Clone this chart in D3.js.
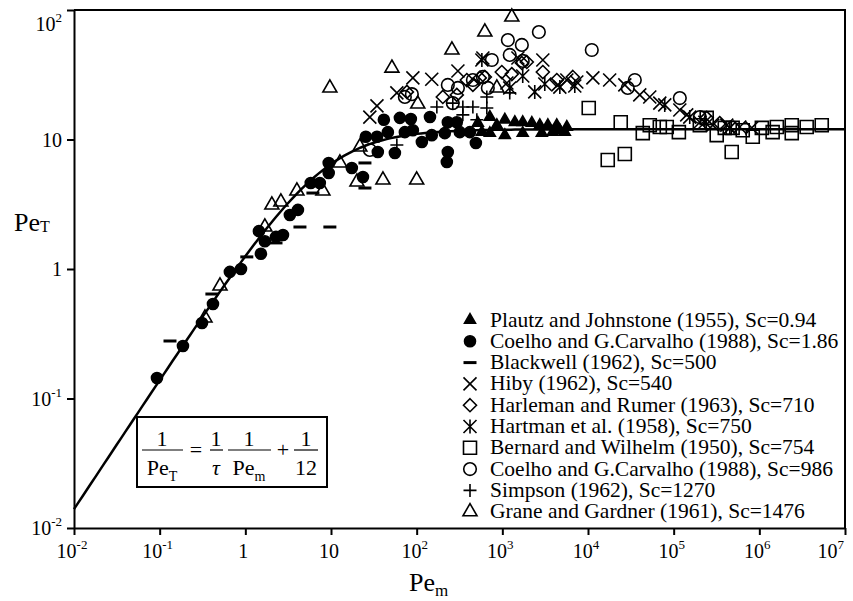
<!DOCTYPE html>
<html>
<head>
<meta charset="utf-8">
<script src="https://cdn.jsdelivr.net/npm/d3@7/dist/d3.min.js"></script>
<style>
  body { margin: 0; background: #fff; }
</style>
</head>
<body>
<svg id="chart" width="853" height="601" font-family="'Liberation Serif', 'Times New Roman', Tinos, 'DejaVu Serif', serif"></svg>
<script>
// DATA: [Pe_m, Pe_T]
const plautz = [[518,13.4],[577,11.4],[715,14.9],[715,11.2],[863,12.9],[1070,14.2],[1070,10.8],[1400,13.6],[1730,13.6],[1730,11.2],[2210,13.4],[2740,12.9],[2890,11.2],[3400,12.9],[3880,11.4],[4320,12.9],[4690,11.8],[5360,11.4],[5660,12.5]];
const coelho186 = [[0.093,0.144],[0.187,0.254],[0.312,0.383],[0.419,0.537],[0.66,0.95],[0.89,1.0],[1.44,1.96],[1.52,1.31],[1.69,1.64],[2.28,1.77],[2.75,1.83],[3.31,2.61],[4.11,2.86],[5.8,4.61],[7.4,4.61],[9.4,6.59],[9.4,5.51],[17.5,6.03],[23.6,5.13],[25.5,10.5],[34.4,10.5],[35.2,8.0],[41.4,14.2],[46.1,11.4],[55.7,7.87],[63.7,14.7],[72.8,11.4],[85.5,14.4],[90.3,11.8],[115,9.57],[143,14.9],[150,10.8],[213,11.2],[231,13.6],[231,8.0],[225,6.7],[294,13.6],[319,11.4],[418,11.4],[491,9.4]];
const blackwell = [[0.132,0.278],[0.407,0.641],[1.04,1.24],[2.28,1.59],[4.34,2.11],[9.7,2.11],[6.15,3.86],[24.9,6.59],[24.9,4.22]];
const hiby = [[28.4,14.9],[34.4,18.2],[58.7,22.9],[90.3,29.9],[150,29.2],[303,33.8],[593,42.6],[1130,27.3],[1520,42.6],[2970,41.1],[4440,26.4],[5660,28.8],[7400,27.8],[11400,29.9],[17900,28.8],[26900,26.4],[40200,22.1],[52600,21.3],[68900,19.1],[118000,16.9],[142000,15.5],[202000,13.6],[286000,12.9],[417000,12.9],[590000,12.5],[815000,12.3]];
const harleman = [[76.9,23.3],[202,21.3],[294,22.1],[385,28.8],[453,26.4],[546,29.9],[625,30.4],[986,33.2],[1290,32.0],[1690,39.0],[1930,39.7],[2970,33.2],[4320,28.8],[6650,30.4],[243000,14.7],[345000,13.4]];
const hartman = [[577,41.1],[1220,25.0],[1730,30.9],[2390,23.3],[3130,26.8],[4690,25.4],[7010,25.9],[78700,18.5],[154000,14.9],[231000,13.6],[452000,12.3]];
const bernard = [[10200,17.5],[17000,6.95],[24100,13.6],[26900,7.73],[43600,11.2],[52600,12.9],[68900,12.5],[83000,12.5],[115000,11.4],[202000,12.9],[243000,14.7],[318000,10.8],[395000,12.3],[476000,8.0],[488000,12.3],[640000,11.8],[838000,10.5],[1070000,12.3],[1430000,11.4],[1600000,12.5],[2390000,12.9],[2390000,11.2],[3570000,12.5],[5350000,12.9]];
const coelho986 = [[28.4,8.3],[72.8,21.3],[87.9,22.4],[231,26.4],[264,19.1],[303,25.0],[453,28.8],[593,30.4],[677,25.0],[754,41.1],[1160,58.6],[1220,45.0],[1690,53.7],[1730,40.4],[2670,67.6],[11070,49.1],[29100,25.0],[35200,28.8],[118000,20.9],[202000,14.9]];
const simpson = [[58.7,9.07],[172,17.8],[264,19.1],[346,17.8],[346,15.5],[453,17.8],[504,14.2],[659,21.3],[659,17.5],[1220,22.9]];
const grane = [[0.338,0.419],[0.506,0.74],[1.69,2.11],[2.04,3.12],[2.60,3.29],[4.0,4.0],[8.04,4.0],[9.7,25.0],[12.7,6.59],[20.1,4.70],[21.7,8.75],[40.4,4.87],[51.4,35.6],[100,4.87],[103,18.8],[258,49.1],[625,67.6],[863,25.0],[1290,88.3]];

const legendNames = [
  'Plautz and Johnstone (1955), Sc=0.94',
  'Coelho and G.Carvalho (1988), Sc=1.86',
  'Blackwell (1962), Sc=500',
  'Hiby (1962), Sc=540',
  'Harleman and Rumer (1963), Sc=710',
  'Hartman et al. (1958), Sc=750',
  'Bernard and Wilhelm (1950), Sc=754',
  'Coelho and G.Carvalho (1988), Sc=986',
  'Simpson (1962), Sc=1270',
  'Grane and Gardner (1961), Sc=1476',
];
const markerTypes = ['triFill', 'dot', 'dash', 'x', 'diamond', 'aster', 'square', 'ring', 'plus', 'tri'];
const seriesData = [plautz, coelho186, blackwell, hiby, harleman, hartman, bernard, coelho986, simpson, grane];

const xTicks = [1e-2, 1e-1, 1, 10, 1e2, 1e3, 1e4, 1e5, 1e6, 1e7];
const yTicks = [1e-2, 1e-1, 1, 10, 1e2];

// MODEL: 1/PeT = 1/tau * 1/Pem + 1/12
const TAU = 1.4;
const PE_LIM = 12;
const curvePem = d3.range(-2, 7.01, 0.05).map((e) => Math.pow(10, e));

// LAYOUT
const m = { top: 10, right: 8, bottom: 73, left: 74 };
const W = 853, H = 601;
const w = W - m.left - m.right;
const h = H - m.top - m.bottom;

const svg = d3.select('#chart');
const g = svg.append('g').attr('transform', `translate(${m.left},${m.top})`);

// SCALES
const xScale = d3.scaleLog().domain([1e-2, 1e7]).range([0, w]);
const yScale = d3.scaleLog().domain([1e-2, 1e2]).range([h, 0]);

// MARKER SHAPES
function markerPath(type) {
  const r = 6.5;
  switch (type) {
    case 'triFill': { const s = 11, t = s * 0.866; return `M0,${-t * 2 / 3}L${s / 2},${t / 3}L${-s / 2},${t / 3}Z`; }
    case 'tri': { const s = 14, t = s * 0.866; return `M0,${-t * 2 / 3}L${s / 2},${t / 3}L${-s / 2},${t / 3}Z`; }
    case 'dot': return circ(5.5);
    case 'ring': return circ(6.3);
    case 'square': return `M${-r},${-r}h${2 * r}v${2 * r}h${-2 * r}Z`;
    case 'diamond': return `M0,${-r}L${r},0L0,${r}L${-r},0Z`;
    case 'x': return `M${-r},${-r}L${r},${r}M${-r},${r}L${r},${-r}`;
    case 'plus': return `M${-r},0H${r}M0,${-r}V${r}`;
    case 'aster': return `M${-r},${-r}L${r},${r}M${-r},${r}L${r},${-r}M0,${-r - 0.5}V${r + 0.5}`;
    case 'dash': return `M${-r},0H${r}`;
  }
}
function circ(r) {
  return `M${r},0A${r},${r} 0 1,1 ${-r},0A${r},${r} 0 1,1 ${r},0Z`;
}
function styleMarker(sel, type) {
  const filled = type === 'triFill' || type === 'dot';
  sel.attr('d', markerPath(type))
    .attr('fill', filled ? '#000' : 'none')
    .attr('stroke', '#000')
    .attr('stroke-width', type === 'dash' ? 3 : 1.6);
}

// AXES
const xAxis = g.append('g')
  .attr('transform', `translate(0,${h})`)
  .call(d3.axisBottom(xScale).tickValues(xTicks).tickFormat('').tickSize(7).tickSizeOuter(0));
const yAxis = g.append('g')
  .call(d3.axisLeft(yScale).tickValues(yTicks).tickFormat('').tickSize(7).tickSizeOuter(0));
[xAxis, yAxis].forEach((a) => {
  a.selectAll('path, line').attr('stroke', '#000').attr('stroke-width', 2);
});

// FRAME (TOP + RIGHT)
g.append('path')
  .attr('d', `M0,0H${w}V${h}`)
  .attr('fill', 'none')
  .attr('stroke', '#000')
  .attr('stroke-width', 2);

// TICK LABELS
function powLabel(sel, v) {
  const e = Math.round(Math.log10(v));
  if (e === 0) { sel.text('1'); return; }
  sel.append('tspan').text('10');
  if (e !== 1) {
    sel.append('tspan').attr('dy', -9).attr('font-size', 13).text(String(e));
  }
}
xTicks.forEach((v, i) => {
  const last = i === xTicks.length - 1;
  const t = g.append('text')
    .attr('x', last ? xScale(v) - 1 : xScale(v) - 2)
    .attr('y', h + 30)
    .attr('text-anchor', last ? 'end' : 'middle')
    .attr('font-size', 20);
  powLabel(t, v);
});
yTicks.forEach((v, i) => {
  const top = i === yTicks.length - 1;
  const t = g.append('text')
    .attr('x', -12)
    .attr('y', yScale(v) + (top ? 21 : 7))
    .attr('text-anchor', 'end')
    .attr('font-size', 20);
  powLabel(t, v);
});

// AXIS TITLES
const yt = svg.append('text').attr('x', 14).attr('y', 231).attr('font-size', 26);
yt.append('tspan').text('Pe');
yt.append('tspan').attr('font-size', 16).attr('dy', 1).text('T');
const xt = svg.append('text').attr('x', 409).attr('y', 591).attr('font-size', 26);
xt.append('tspan').text('Pe');
xt.append('tspan').attr('font-size', 17).attr('dy', 5).text('m');

// MODEL CURVE
const line = d3.line()
  .x((d) => xScale(d))
  .y((d) => yScale(1 / (1 / (TAU * d) + 1 / PE_LIM)));
g.append('path')
  .datum(curvePem)
  .attr('fill', 'none')
  .attr('stroke', '#000')
  .attr('stroke-width', 2.5)
  .attr('d', line);

// POINTS
seriesData.forEach((data, i) => {
  g.append('g')
    .selectAll('path')
    .data(data)
    .enter()
    .append('path')
    .attr('transform', (d) => `translate(${xScale(d[0])},${yScale(d[1])})`)
    .call(styleMarker, markerTypes[i]);
});

// EQUATION BOX
const eq = svg.append('g');
eq.append('rect')
  .attr('x', 137).attr('y', 417).attr('width', 190).attr('height', 70)
  .attr('fill', '#fff').attr('stroke', '#000').attr('stroke-width', 2);
function frac(cx, x0, x1, top, bottom) {
  eq.append('text').attr('x', cx).attr('y', 446).attr('text-anchor', 'middle').attr('font-size', 22).text(top);
  eq.append('line').attr('x1', x0).attr('x2', x1).attr('y1', 450).attr('y2', 450)
    .attr('stroke', '#000').attr('stroke-width', 1.2);
  bottom(eq.append('text').attr('x', cx).attr('y', 475).attr('text-anchor', 'middle').attr('font-size', 22));
}
frac(162, 142, 183, '1', (t) => { t.append('tspan').text('Pe'); t.append('tspan').attr('font-size', 14).attr('dy', 6).text('T'); });
eq.append('text').attr('x', 196).attr('y', 457).attr('text-anchor', 'middle').attr('font-size', 22).text('=');
frac(216, 210, 223, '1', (t) => t.attr('font-style', 'italic').text('τ'));
frac(249, 228, 271, '1', (t) => { t.append('tspan').text('Pe'); t.append('tspan').attr('font-size', 14).attr('dy', 6).text('m'); });
eq.append('text').attr('x', 283).attr('y', 457).attr('text-anchor', 'middle').attr('font-size', 22).text('+');
frac(306, 294, 318, '1', (t) => t.text('12'));

// LEGEND
const lg = svg.append('g').attr('transform', 'translate(470,320)');
legendNames.forEach((name, i) => {
  const row = lg.append('g').attr('transform', `translate(0,${i * 21.3})`);
  row.append('path').call(styleMarker, markerTypes[i]);
  row.append('text').attr('x', 20).attr('y', 6.5).attr('font-size', 21.5).text(name);
});
</script>
</body>
</html>
